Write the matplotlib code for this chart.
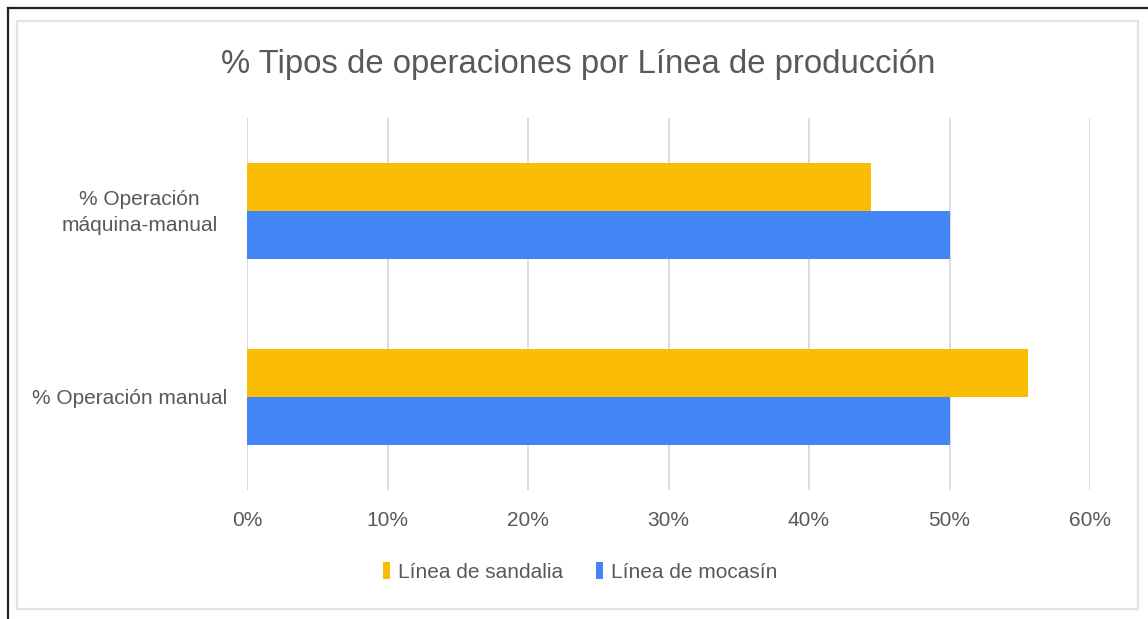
import matplotlib
matplotlib.use("Agg")
import matplotlib.pyplot as plt
from matplotlib.patches import Rectangle
from matplotlib.lines import Line2D
from matplotlib.transforms import ScaledTranslation
import numpy as np

categories = ["% Operación manual", "% Operación\nmáquina-manual"]
series_names = ["Línea de sandalia", "Línea de mocasín"]
sandalia = [0.556, 0.444]
mocasin = [0.50, 0.50]
xticks = [0, 0.1, 0.2, 0.3, 0.4, 0.5, 0.6]
xticklabels = ["0%", "10%", "20%", "30%", "40%", "50%", "60%"]

YELLOW = "#FBBC04"
BLUE = "#4285F4"
TEXT = "#595959"
GRID = "#D9D9D9"

plt.rcParams['font.family'] = ['Liberation Sans', 'DejaVu Sans']

W, H = 1148, 619
fig = plt.figure(figsize=(W / 100, H / 100), dpi=100)
fig.patch.set_facecolor("white")

# outer dark border (top and left)
fig.add_artist(Line2D([8 / W, 1.0], [1 - 8 / H, 1 - 8 / H], color="#222222", lw=1.6,
                      transform=fig.transFigure))
fig.add_artist(Line2D([8 / W, 8 / W], [1 - 8 / H, 0.0], color="#222222", lw=1.6,
                      transform=fig.transFigure))
# inner light frame
fig.add_artist(Rectangle((17 / W, 1 - 609 / H), (1138 - 17) / W, (609 - 21) / H,
                         fill=False, edgecolor="#E3E3E3", lw=1.6, transform=fig.transFigure))

ax = fig.add_axes([247 / W, 1 - 490 / H, (1090 - 247) / W, (490 - 118) / H])

y = np.arange(len(categories))
h = 0.26
ax.barh(y + h / 2, sandalia, height=h, color=YELLOW, label=series_names[0], zorder=3)
ax.barh(y - h / 2, mocasin, height=h, color=BLUE, label=series_names[1], zorder=3)

ax.set_xlim(0, 0.6)
ax.set_ylim(-0.5, 1.5)
ax.set_xticks(xticks)
ax.set_xticklabels(xticklabels)
ax.set_yticks(y)
ax.set_yticklabels(categories, multialignment="center", linespacing=1.45)
ax.tick_params(axis="x", length=0, pad=15, labelsize=15, labelcolor=TEXT)
ax.tick_params(axis="y", length=0, pad=14, labelsize=15, labelcolor=TEXT)
ax.grid(axis="x", color=GRID, lw=1.3, zorder=0)
ax.set_axisbelow(True)
for s in ax.spines.values():
    s.set_visible(False)

lbl = ax.get_yticklabels()[1]
lbl.set_transform(lbl.get_transform() + ScaledTranslation(-0.10, 0.04, fig.dpi_scale_trans))

fig.text(578 / W, 1 - 64 / H, "% Tipos de operaciones por Línea de producción",
         ha="center", va="center", fontsize=23.7, color=TEXT)

leg = fig.legend(loc="center", bbox_to_anchor=(580 / W, 1 - 572 / H), ncol=2,
                 frameon=False, fontsize=15, labelcolor=TEXT, handlelength=0.35,
                 handleheight=0.9, handletextpad=0.35, columnspacing=1.6)

fig.savefig("out.png", dpi=100, facecolor="white")
